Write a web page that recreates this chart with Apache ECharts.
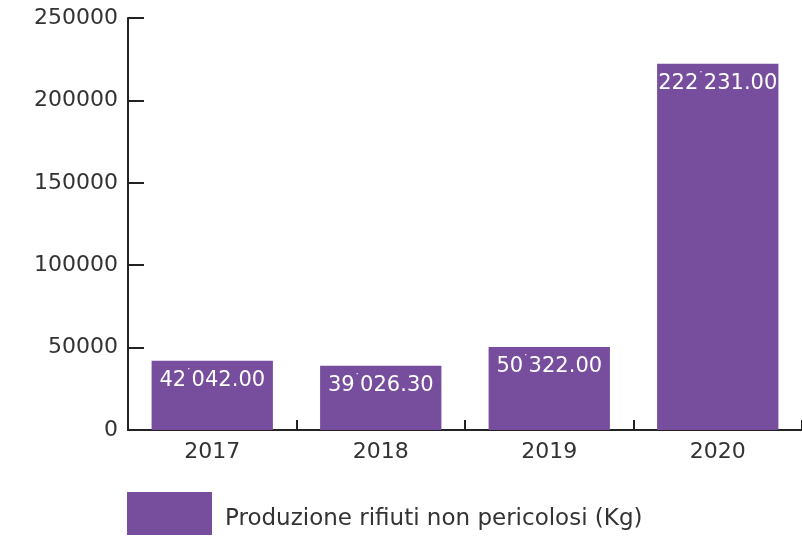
<!DOCTYPE html>
<html><head><meta charset="utf-8">
<script src="https://cdn.jsdelivr.net/npm/echarts@6/dist/echarts.min.js"></script>
<style>html,body{margin:0;padding:0;background:#fff}#c{width:802px;height:536px}</style>
</head><body><div id="c"></div>
<script>
const categories = ['2017','2018','2019','2020'];
const values = [42042.00, 39026.30, 50322.00, 222231.00];
const seriesName = 'Produzione rifiuti non pericolosi (Kg)';
const yTicks = [0, 50000, 100000, 150000, 200000, 250000];

function fmt(v){
  const s = v.toFixed(2);
  const [i, d] = s.split('.');
  return i.replace(/\B(?=(\d{3})+(?!\d))/g, '{s|\u02D9}') + '.' + d;
}

const chart = echarts.init(document.getElementById('c'));
const font = 'DejaVu Sans';
chart.setOption({
  animation: false,
  grid: {left: 128, top: 18, width: 679, bottom: 106, containLabel: false},
  legend: {
    data: [seriesName], left: 127, top: 492, padding: 0, itemWidth: 85, itemHeight: 43, itemGap: 10,
    icon: 'rect',
    formatter: n => '{t|' + n + '}',
    textStyle: {
      fontFamily: font, fontSize: 23, color: '#333',
      rich: {t: {fontFamily: font, fontSize: 23, color: '#333', padding: [11, 0, 0, 8]}}
    }
  },
  xAxis: {
    type: 'category', data: categories,
    axisLine: {lineStyle: {color: '#222', width: 2}},
    axisTick: {show: true, inside: true, length: 10, lineStyle: {color: '#222', width: 2}},
    axisLabel: {fontFamily: font, fontSize: 22, color: '#333', margin: 11}
  },
  yAxis: {
    type: 'value', min: yTicks[0], max: yTicks[yTicks.length-1], interval: 50000,
    splitLine: {show: false},
    axisLine: {show: true, lineStyle: {color: '#222', width: 2}},
    axisTick: {show: true, inside: true, length: 16, lineStyle: {color: '#222', width: 2}},
    axisLabel: {fontFamily: font, fontSize: 22, color: '#333', margin: 10, formatter: v => String(v)}
  },
  series: [{
    name: seriesName, type: 'bar', data: values, barWidth: '72%',
    itemStyle: {color: '#774e9e'},
    label: {show: true, position: 'insideTop', distance: 7, color: '#fff',
      fontFamily: font, fontSize: 21, formatter: p => fmt(p.value),
      rich: {s: {fontFamily: font, fontSize: 11, color: '#fff', verticalAlign: 'top', lineHeight: 25}}}
  }]
});
</script></body></html>
